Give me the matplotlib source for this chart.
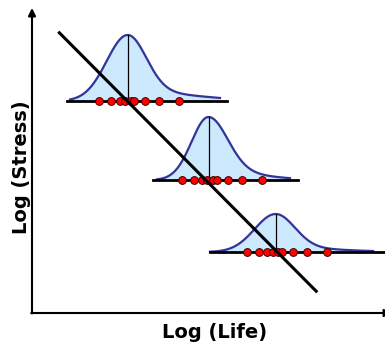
import numpy as np
import matplotlib
matplotlib.use("Agg")
import matplotlib.pyplot as plt

# ---- data (chart units: 1 unit ~ 1 px, origin at the axes corner) ----
line_x = [26.3, 285.3]
line_y = [281.3, 20.7]

peak_x = [95.7, 176.5, 243.7]
base_y = [212.0, 133.0, 61.0]
peak_h = [66.0, 63.0, 38.0]
sigma_left = [21.0, 17.0, 21.0]
sigma_right = [18.5, 19.0, 19.0]
tail_weight = [0.15, 0.15, 0.12]
tail_sigma = [60.0, 45.0, 55.0]
curve_start = [38.0, 125.0, 178.0]
curve_end = [188.0, 258.0, 341.0]
base_start = [35.0, 121.0, 178.0]
base_end = [195.0, 266.0, 353.0]

dots1 = [67.3, 79.0, 88.0, 93.0, 98.7, 102.0, 113.0, 127.0, 147.0]
dots2 = [150.3, 161.7, 170.3, 175.3, 180.7, 184.7, 196.0, 209.7, 230.3]
dots3 = [215.3, 227.0, 235.3, 241.3, 246.3, 249.7, 261.3, 274.7, 295.0]
dots = [dots1, dots2, dots3]

x_label = "Log (Life)"
y_label = "Log (Stress)"

fill_color = "#cce9fd"
edge_color = "#33339a"

W, H = 385, 347
fig = plt.figure(figsize=(W / 100, H / 100), dpi=100)
ax = fig.add_axes([32 / W, 34 / H, 353 / W, 305 / H])
ax.set_xlim(0, 353)
ax.set_ylim(0, 305)
ax.axis("off")

for i in range(3):
    xs = np.linspace(curve_start[i], curve_end[i], 400)
    d = xs - peak_x[i]
    left = np.exp(-0.5 * (d / sigma_left[i]) ** 2)
    right = (1 - tail_weight[i]) * np.exp(-0.5 * (d / sigma_right[i]) ** 2) + \
        tail_weight[i] * np.exp(-0.5 * (d / tail_sigma[i]) ** 2)
    shape = np.where(d < 0, left, right)
    ys = base_y[i] + peak_h[i] * shape
    ax.fill_between(xs, base_y[i], ys, color=fill_color, lw=0, zorder=1)
    ax.plot(xs, ys, color=edge_color, lw=1.6, zorder=2)
    ax.plot([base_start[i], base_end[i]], [base_y[i], base_y[i]],
            color="black", lw=2.0, zorder=3, clip_on=False)
    ax.plot([peak_x[i], peak_x[i]], [base_y[i], base_y[i] + peak_h[i]],
            color="black", lw=0.9, zorder=3)
    ax.plot(dots[i], [base_y[i]] * len(dots[i]), "o", ms=5.6,
            mfc="#ff0000", mec="#400000", mew=0.7, zorder=4)

ax.plot(line_x, line_y, color="black", lw=2.2, zorder=5, solid_capstyle="butt")

# axes with arrows
ax.annotate("", xy=(0, 305), xytext=(0, -0.5), xycoords="data",
            arrowprops=dict(arrowstyle="-|>", lw=1.5, color="black",
                            mutation_scale=11, shrinkA=0, shrinkB=0),
            annotation_clip=False)
ax.annotate("", xy=(360, 0), xytext=(-0.8, 0), xycoords="data",
            arrowprops=dict(arrowstyle="-|>", lw=1.5, color="black",
                            mutation_scale=11, shrinkA=0, shrinkB=0),
            annotation_clip=False)

fig.text(215 / W, 1 - 333 / H, x_label, ha="center", va="center",
         fontsize=14, fontweight="bold", family="DejaVu Sans")
fig.text(21.5 / W, 1 - 167 / H, y_label, ha="center", va="center", rotation=90,
         fontsize=14, fontweight="bold", family="DejaVu Sans")

fig.savefig("out.png", dpi=100)
